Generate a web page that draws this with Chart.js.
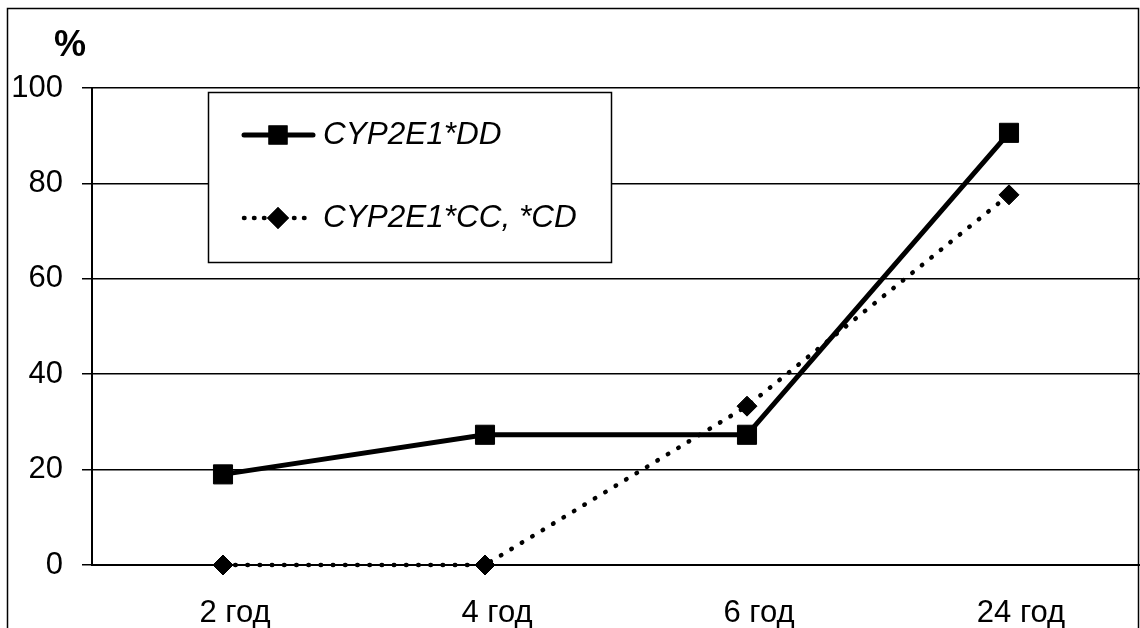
<!DOCTYPE html>
<html>
<head>
<meta charset="utf-8">
<script src="https://cdn.jsdelivr.net/npm/chart.js@4"></script>
<style>
  html, body { margin: 0; padding: 0; background: #fff; overflow: hidden; }
  #wrap { width: 1140px; height: 628px; }
</style>
</head>
<body>
<div id="wrap"><canvas id="myChart" width="1140" height="628"></canvas></div>
<script>
const categories = ['2 год', '4 год', '6 год', '24 год'];
const seriesDD = [19.0, 27.3, 27.3, 90.6];
const seriesCC = [0, 0, 33.3, 77.6];
const yTicks = [0, 20, 40, 60, 80, 100];

const FONT = '"Liberation Sans", Arial, sans-serif';

// frame, "%" unit label and the boxed legend
const decorations = {
    id: 'decorations',
    afterDraw(chart) {
        const ctx = chart.ctx;
        ctx.save();

        ctx.strokeStyle = '#000';
        ctx.lineWidth = 1.5;
        ctx.strokeRect(7.5, 8.5, 1131, 640);

        ctx.fillStyle = '#000';
        ctx.font = 'bold 36px ' + FONT;
        ctx.textAlign = 'center';
        ctx.textBaseline = 'middle';
        ctx.fillText('%', 70, 46);

        // legend box
        ctx.fillStyle = '#fff';
        ctx.fillRect(208, 92, 403, 170);
        ctx.lineWidth = 1.5;
        ctx.strokeRect(208.5, 92.5, 403, 170);

        const rows = [135, 218];
        const sizes = [13.5, 11];
        chart.data.datasets.forEach((ds, i) => {
            const y = rows[i];
            ctx.save();
            ctx.strokeStyle = ds.borderColor;
            ctx.lineWidth = ds.borderWidth;
            ctx.lineCap = ds.borderCapStyle || 'round';
            ctx.setLineDash(ds.borderDash ? [0.5, 9.5] : []);
            ctx.beginPath();
            ctx.moveTo(244, y);
            ctx.lineTo(313, y);
            ctx.stroke();
            ctx.restore();

            ctx.fillStyle = '#000';
            Chart.helpers.drawPoint(ctx, {
                pointStyle: ds.pointStyle,
                radius: sizes[i],
                borderWidth: 0
            }, 278, y);
            ctx.fill();

            ctx.font = 'italic 31.5px ' + FONT;
            ctx.textAlign = 'left';
            ctx.textBaseline = 'middle';
            ctx.fillText(ds.label, 323, y);
        });

        ctx.restore();
    }
};

const ctx = document.getElementById('myChart').getContext('2d');
new Chart(ctx, {
    type: 'line',
    data: {
        labels: categories,
        datasets: [{
            label: 'CYP2E1*DD',
            data: seriesDD,
            clip: false,
            borderColor: '#000',
            backgroundColor: '#000',
            borderWidth: 5,
            pointStyle: 'rect',
            pointRadius: 13.5,
            pointBorderWidth: 1,
            pointBackgroundColor: '#000',
            pointBorderColor: '#000',
            tension: 0
        }, {
            label: 'CYP2E1*CC, *CD',
            data: seriesCC,
            clip: false,
            borderColor: '#000',
            backgroundColor: '#000',
            borderWidth: 4.5,
            borderDash: [0.5, 11.7],
            borderCapStyle: 'round',
            pointStyle: 'rectRot',
            pointRadius: 10,
            pointBorderWidth: 1,
            pointBackgroundColor: '#000',
            pointBorderColor: '#000',
            tension: 0
        }]
    },
    options: {
        responsive: false,
        animation: false,
        events: [],
        layout: {
            autoPadding: false, // let the markers overhang the plot edge
            padding: { top: 88, left: 0, right: -2, bottom: 0 }
        },
        plugins: {
            legend: { display: false },
            tooltip: { enabled: false }
        },
        scales: {
            x: {
                offset: true,
                grid: { display: false, drawTicks: false },
                border: { display: true, color: '#000', width: 2 },
                ticks: {
                    color: '#000',
                    padding: 30,
                    labelOffset: 12,
                    maxRotation: 0,
                    font: { family: FONT, size: 31 }
                },
                afterFit(scale) {
                    scale.height = 63;
                    scale.paddingLeft = 0;
                    scale.paddingRight = 0;
                }
            },
            y: {
                min: 0,
                max: 100,
                afterBuildTicks(scale) {
                    scale.ticks = yTicks.map(v => ({ value: v }));
                },
                grid: {
                    color: '#000',
                    lineWidth: 1.5,
                    tickLength: 10,
                    drawTicks: true
                },
                border: { display: true, color: '#000', width: 2 },
                ticks: {
                    color: '#000',
                    padding: 19,
                    font: { family: FONT, size: 31 }
                },
                afterFit(scale) { scale.width = 92; }
            }
        }
    },
    plugins: [decorations]
});
</script>
</body>
</html>
